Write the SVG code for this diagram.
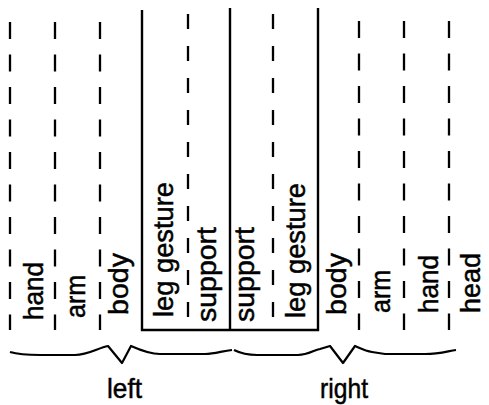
<svg xmlns="http://www.w3.org/2000/svg" width="489" height="405" viewBox="0 0 489 405">
<style>
.bg{fill:#ffffff}
.sol{stroke:#000;stroke-width:2.4;fill:none}
.dsh{stroke:#000;stroke-width:2.3;fill:none;stroke-dasharray:17 15.5}
.dshm{stroke:#000;stroke-width:2.3;fill:none;stroke-dasharray:15 17}
.br{stroke:#000;stroke-width:2.2;fill:none;stroke-linejoin:round}
.lbl{font-family:"Liberation Sans",Arial,sans-serif;font-size:28px;fill:#000;stroke:#000;stroke-width:0.5}
</style>
<rect class="bg" x="0" y="0" width="489" height="405"/>
<g id="connectors">
  <line class="dsh" x1="10" y1="22" x2="10" y2="330"/>
  <line class="dsh" x1="55" y1="22" x2="55" y2="330"/>
  <line class="dsh" x1="100" y1="22" x2="100" y2="330"/>
  <line class="dshm" x1="188" y1="14" x2="188" y2="318"/>
  <line class="dshm" x1="273" y1="14" x2="273" y2="318"/>
  <line class="dsh" x1="359" y1="21" x2="359" y2="330"/>
  <line class="dsh" x1="404" y1="21" x2="404" y2="330"/>
  <line class="dsh" x1="449" y1="21" x2="449" y2="330"/>
  <polyline class="sol" points="142,10 142,330 318,330 318,8"/>
  <line class="sol" x1="230" y1="8" x2="230" y2="330"/>
</g>
<g id="left-hand"><text class="lbl" transform="translate(43,320) rotate(-90)" textLength="58" lengthAdjust="spacingAndGlyphs">hand</text></g>
<g id="left-arm"><text class="lbl" transform="translate(85,318) rotate(-90)" textLength="43" lengthAdjust="spacingAndGlyphs">arm</text></g>
<g id="left-body"><text class="lbl" transform="translate(128,315) rotate(-90)" textLength="62" lengthAdjust="spacingAndGlyphs">body</text></g>
<g id="left-leg-gesture"><text class="lbl" transform="translate(173,317) rotate(-90)" textLength="135" lengthAdjust="spacingAndGlyphs">leg gesture</text></g>
<g id="left-support"><text class="lbl" transform="translate(216,322) rotate(-90)" textLength="95" lengthAdjust="spacingAndGlyphs">support</text></g>
<g id="right-support"><text class="lbl" transform="translate(254,322) rotate(-90)" textLength="95" lengthAdjust="spacingAndGlyphs">support</text></g>
<g id="right-leg-gesture"><text class="lbl" transform="translate(305,318) rotate(-90)" textLength="135" lengthAdjust="spacingAndGlyphs">leg gesture</text></g>
<g id="right-body"><text class="lbl" transform="translate(346,315) rotate(-90)" textLength="62" lengthAdjust="spacingAndGlyphs">body</text></g>
<g id="right-arm"><text class="lbl" transform="translate(390,313) rotate(-90)" textLength="43" lengthAdjust="spacingAndGlyphs">arm</text></g>
<g id="right-hand"><text class="lbl" transform="translate(438,313) rotate(-90)" textLength="58" lengthAdjust="spacingAndGlyphs">hand</text></g>
<g id="right-head"><text class="lbl" transform="translate(480,313) rotate(-90)" textLength="60" lengthAdjust="spacingAndGlyphs">head</text></g>
<g id="left-brace">
  <path class="br" d="M10,352 C20,355 30,355 40,355 L75,355 C88,355 98,348 108,346 L122,363 L131,346 C140,350 150,354 160,354 L205,354 C215,354 222,351 232,350"/>
  <text class="lbl" x="107" y="398" textLength="35" lengthAdjust="spacingAndGlyphs">left</text>
</g>
<g id="right-brace">
  <path class="br" d="M234,350 C242,354 248,355 257,355 L298,355 C308,355 314,350 320,349 L330,346 L343,363 L355,346 C362,349 366,351 372,352 L385,354 L425,354 C440,354 448,351 456,350"/>
  <text class="lbl" x="320" y="398" textLength="48" lengthAdjust="spacingAndGlyphs">right</text>
</g>
</svg>
